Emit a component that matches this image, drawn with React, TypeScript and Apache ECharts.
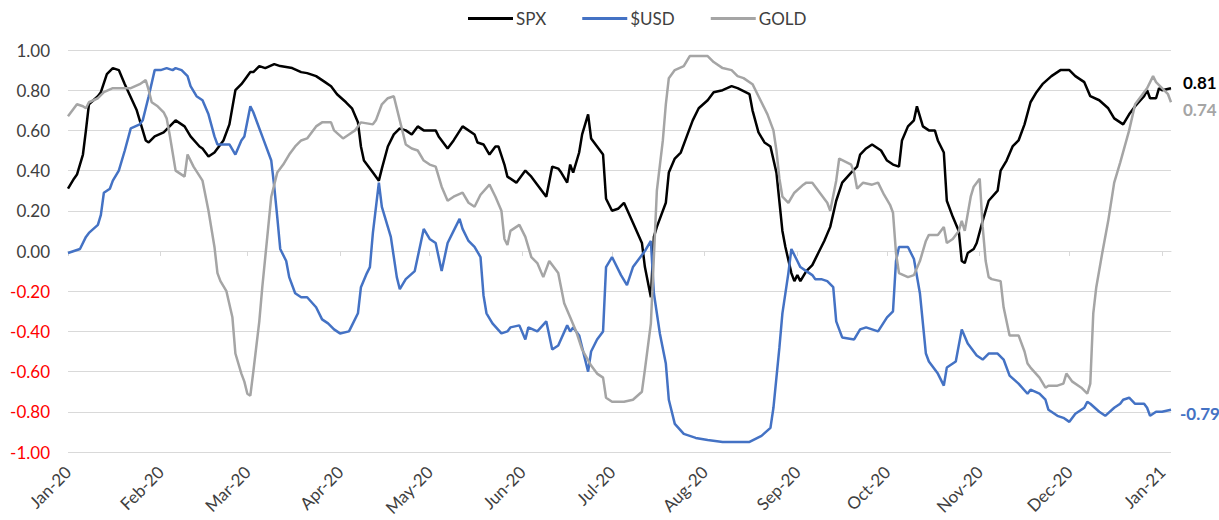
import React, { useEffect, useRef } from "react";
import * as echarts from "echarts";

const seriesNames = ["SPX", "$USD", "GOLD"];

const monthStarts = [
  "2020-01-01", "2020-02-01", "2020-03-01", "2020-04-01", "2020-05-01", "2020-06-01", "2020-07-01",
  "2020-08-01", "2020-09-01", "2020-10-01", "2020-11-01", "2020-12-01", "2021-01-01",
];
const monthLabels = [
  "Jan-20", "Feb-20", "Mar-20", "Apr-20", "May-20", "Jun-20", "Jul-20",
  "Aug-20", "Sep-20", "Oct-20", "Nov-20", "Dec-20", "Jan-21",
];

const spx: [string, number][] = [
  ["2020-01-01", 0.31], ["2020-01-03", 0.36], ["2020-01-04", 0.38], ["2020-01-06", 0.48], ["2020-01-07", 0.6],
  ["2020-01-08", 0.73], ["2020-01-11", 0.77], ["2020-01-12", 0.79], ["2020-01-14", 0.88], ["2020-01-16", 0.91],
  ["2020-01-18", 0.9], ["2020-01-20", 0.83], ["2020-01-24", 0.7], ["2020-01-27", 0.55], ["2020-01-28", 0.54],
  ["2020-01-30", 0.57], ["2020-02-02", 0.59], ["2020-02-04", 0.62], ["2020-02-06", 0.65], ["2020-02-09", 0.62],
  ["2020-02-11", 0.57], ["2020-02-14", 0.52], ["2020-02-15", 0.51], ["2020-02-17", 0.47], ["2020-02-19", 0.49],
  ["2020-02-21", 0.53], ["2020-02-22", 0.55], ["2020-02-24", 0.63], ["2020-02-26", 0.8], ["2020-02-28", 0.83],
  ["2020-02-29", 0.85], ["2020-03-02", 0.89], ["2020-03-03", 0.89], ["2020-03-05", 0.92], ["2020-03-07", 0.91],
  ["2020-03-10", 0.93], ["2020-03-12", 0.92], ["2020-03-16", 0.91], ["2020-03-19", 0.89], ["2020-03-21", 0.885],
  ["2020-03-24", 0.87], ["2020-03-27", 0.84], ["2020-03-29", 0.82], ["2020-03-31", 0.78], ["2020-04-03", 0.74],
  ["2020-04-05", 0.71], ["2020-04-07", 0.64], ["2020-04-08", 0.52], ["2020-04-09", 0.45], ["2020-04-10", 0.43],
  ["2020-04-12", 0.39], ["2020-04-14", 0.35], ["2020-04-15", 0.41], ["2020-04-17", 0.52], ["2020-04-19", 0.58],
  ["2020-04-21", 0.61], ["2020-04-23", 0.6], ["2020-04-25", 0.58], ["2020-04-27", 0.62], ["2020-04-29", 0.6],
  ["2020-05-01", 0.6], ["2020-05-03", 0.6], ["2020-05-04", 0.57], ["2020-05-07", 0.51], ["2020-05-09", 0.55],
  ["2020-05-12", 0.62], ["2020-05-13", 0.61], ["2020-05-16", 0.58], ["2020-05-17", 0.54], ["2020-05-19", 0.53],
  ["2020-05-21", 0.48], ["2020-05-23", 0.52], ["2020-05-24", 0.52], ["2020-05-26", 0.43], ["2020-05-27", 0.37],
  ["2020-05-30", 0.34], ["2020-06-02", 0.4], ["2020-06-04", 0.37], ["2020-06-06", 0.33], ["2020-06-09", 0.27],
  ["2020-06-11", 0.42], ["2020-06-13", 0.41], ["2020-06-14", 0.39], ["2020-06-16", 0.34], ["2020-06-17", 0.43],
  ["2020-06-18", 0.39], ["2020-06-20", 0.49], ["2020-06-21", 0.58], ["2020-06-23", 0.68], ["2020-06-24", 0.56],
  ["2020-06-26", 0.52], ["2020-06-28", 0.48], ["2020-06-29", 0.26], ["2020-07-01", 0.2], ["2020-07-03", 0.21],
  ["2020-07-05", 0.24], ["2020-07-08", 0.14], ["2020-07-11", 0.04], ["2020-07-12", -0.08], ["2020-07-14", -0.23],
  ["2020-07-15", 0.07], ["2020-07-16", 0.12], ["2020-07-19", 0.24], ["2020-07-20", 0.39], ["2020-07-22", 0.46],
  ["2020-07-24", 0.49], ["2020-07-26", 0.57], ["2020-07-28", 0.65], ["2020-07-30", 0.71], ["2020-08-02", 0.75],
  ["2020-08-04", 0.79], ["2020-08-07", 0.8], ["2020-08-10", 0.82], ["2020-08-12", 0.81], ["2020-08-16", 0.78],
  ["2020-08-17", 0.7], ["2020-08-19", 0.59], ["2020-08-21", 0.54], ["2020-08-23", 0.52], ["2020-08-25", 0.39],
  ["2020-08-27", 0.1], ["2020-08-28", 0.02], ["2020-08-30", -0.11], ["2020-08-31", -0.15], ["2020-09-01", -0.12],
  ["2020-09-02", -0.15], ["2020-09-04", -0.1], ["2020-09-06", -0.07], ["2020-09-08", -0.01], ["2020-09-10", 0.05],
  ["2020-09-12", 0.12], ["2020-09-14", 0.25], ["2020-09-16", 0.34], ["2020-09-19", 0.39], ["2020-09-21", 0.42],
  ["2020-09-22", 0.48], ["2020-09-24", 0.51], ["2020-09-26", 0.53], ["2020-09-29", 0.5], ["2020-10-01", 0.45],
  ["2020-10-03", 0.43], ["2020-10-05", 0.42], ["2020-10-06", 0.55], ["2020-10-08", 0.62], ["2020-10-10", 0.65],
  ["2020-10-11", 0.72], ["2020-10-13", 0.62], ["2020-10-15", 0.6], ["2020-10-17", 0.6], ["2020-10-18", 0.55],
  ["2020-10-20", 0.49], ["2020-10-21", 0.25], ["2020-10-23", 0.17], ["2020-10-25", 0.1], ["2020-10-26", -0.05],
  ["2020-10-27", -0.06], ["2020-10-28", -0.01], ["2020-10-30", 0.01], ["2020-10-31", 0.04], ["2020-11-02", 0.15],
  ["2020-11-04", 0.25], ["2020-11-07", 0.3], ["2020-11-08", 0.4], ["2020-11-10", 0.45], ["2020-11-12", 0.52],
  ["2020-11-14", 0.55], ["2020-11-16", 0.63], ["2020-11-18", 0.74], ["2020-11-20", 0.79], ["2020-11-22", 0.83],
  ["2020-11-25", 0.87], ["2020-11-28", 0.9], ["2020-12-01", 0.9], ["2020-12-03", 0.87], ["2020-12-06", 0.84],
  ["2020-12-08", 0.77], ["2020-12-11", 0.75], ["2020-12-14", 0.71], ["2020-12-16", 0.66], ["2020-12-19", 0.63],
  ["2020-12-21", 0.68], ["2020-12-23", 0.72], ["2020-12-26", 0.77], ["2020-12-27", 0.8], ["2020-12-28", 0.76],
  ["2020-12-30", 0.76], ["2020-12-31", 0.81], ["2021-01-01", 0.8], ["2021-01-04", 0.81],
];

const usd: [string, number][] = [
  ["2020-01-01", -0.01], ["2020-01-03", 0.0], ["2020-01-05", 0.01], ["2020-01-07", 0.07], ["2020-01-08", 0.09],
  ["2020-01-11", 0.13], ["2020-01-12", 0.18], ["2020-01-13", 0.29], ["2020-01-15", 0.31], ["2020-01-16", 0.35],
  ["2020-01-18", 0.4], ["2020-01-20", 0.5], ["2020-01-22", 0.61], ["2020-01-25", 0.63], ["2020-01-26", 0.65],
  ["2020-01-28", 0.77], ["2020-01-30", 0.9], ["2020-02-01", 0.9], ["2020-02-03", 0.91], ["2020-02-05", 0.9],
  ["2020-02-06", 0.91], ["2020-02-08", 0.9], ["2020-02-10", 0.87], ["2020-02-11", 0.82], ["2020-02-13", 0.77],
  ["2020-02-15", 0.75], ["2020-02-17", 0.68], ["2020-02-19", 0.57], ["2020-02-20", 0.53], ["2020-02-22", 0.53],
  ["2020-02-24", 0.53], ["2020-02-26", 0.48], ["2020-02-28", 0.55], ["2020-02-29", 0.57], ["2020-03-02", 0.72],
  ["2020-03-03", 0.69], ["2020-03-06", 0.57], ["2020-03-09", 0.45], ["2020-03-10", 0.32], ["2020-03-11", 0.17],
  ["2020-03-12", 0.01], ["2020-03-14", -0.05], ["2020-03-15", -0.13], ["2020-03-17", -0.21], ["2020-03-19", -0.23],
  ["2020-03-21", -0.23], ["2020-03-24", -0.28], ["2020-03-26", -0.34], ["2020-03-28", -0.36], ["2020-03-30", -0.39],
  ["2020-04-01", -0.41], ["2020-04-04", -0.4], ["2020-04-05", -0.37], ["2020-04-07", -0.31], ["2020-04-08", -0.18],
  ["2020-04-10", -0.11], ["2020-04-11", -0.08], ["2020-04-12", 0.09], ["2020-04-14", 0.34], ["2020-04-15", 0.22],
  ["2020-04-17", 0.12], ["2020-04-18", 0.07], ["2020-04-20", -0.13], ["2020-04-21", -0.19], ["2020-04-23", -0.14],
  ["2020-04-26", -0.1], ["2020-04-27", -0.03], ["2020-04-29", 0.11], ["2020-05-01", 0.06], ["2020-05-03", 0.04],
  ["2020-05-05", -0.1], ["2020-05-07", 0.04], ["2020-05-09", 0.1], ["2020-05-11", 0.16], ["2020-05-12", 0.11],
  ["2020-05-14", 0.05], ["2020-05-16", 0.02], ["2020-05-18", -0.03], ["2020-05-19", -0.22], ["2020-05-20", -0.31],
  ["2020-05-22", -0.36], ["2020-05-25", -0.41], ["2020-05-27", -0.4], ["2020-05-28", -0.38], ["2020-05-31", -0.37],
  ["2020-06-02", -0.44], ["2020-06-03", -0.38], ["2020-06-06", -0.4], ["2020-06-09", -0.35], ["2020-06-11", -0.49],
  ["2020-06-13", -0.47], ["2020-06-16", -0.37], ["2020-06-17", -0.4], ["2020-06-18", -0.38], ["2020-06-20", -0.42],
  ["2020-06-23", -0.6], ["2020-06-24", -0.5], ["2020-06-26", -0.44], ["2020-06-28", -0.4], ["2020-06-29", -0.08],
  ["2020-07-01", -0.03], ["2020-07-04", -0.12], ["2020-07-06", -0.17], ["2020-07-08", -0.08], ["2020-07-10", -0.04],
  ["2020-07-12", 0.0], ["2020-07-14", 0.05], ["2020-07-15", -0.21], ["2020-07-17", -0.41], ["2020-07-19", -0.56],
  ["2020-07-20", -0.74], ["2020-07-22", -0.86], ["2020-07-25", -0.91], ["2020-07-29", -0.93], ["2020-08-02", -0.94],
  ["2020-08-07", -0.95], ["2020-08-16", -0.95], ["2020-08-20", -0.92], ["2020-08-23", -0.88], ["2020-08-24", -0.78],
  ["2020-08-26", -0.48], ["2020-08-27", -0.31], ["2020-08-29", -0.11], ["2020-08-30", 0.01], ["2020-09-01", -0.05],
  ["2020-09-02", -0.08], ["2020-09-04", -0.1], ["2020-09-06", -0.12], ["2020-09-07", -0.14], ["2020-09-09", -0.14],
  ["2020-09-11", -0.15], ["2020-09-13", -0.18], ["2020-09-14", -0.35], ["2020-09-16", -0.43], ["2020-09-20", -0.44],
  ["2020-09-22", -0.39], ["2020-09-24", -0.38], ["2020-09-28", -0.4], ["2020-10-01", -0.33], ["2020-10-03", -0.3],
  ["2020-10-04", -0.05], ["2020-10-05", 0.02], ["2020-10-08", 0.02], ["2020-10-10", -0.04], ["2020-10-12", -0.21],
  ["2020-10-14", -0.51], ["2020-10-15", -0.55], ["2020-10-18", -0.61], ["2020-10-20", -0.67], ["2020-10-21", -0.58],
  ["2020-10-24", -0.55], ["2020-10-26", -0.39], ["2020-10-28", -0.46], ["2020-10-31", -0.52], ["2020-11-02", -0.54],
  ["2020-11-04", -0.51], ["2020-11-07", -0.51], ["2020-11-09", -0.54], ["2020-11-11", -0.62], ["2020-11-14", -0.66],
  ["2020-11-17", -0.71], ["2020-11-18", -0.69], ["2020-11-21", -0.71], ["2020-11-23", -0.74], ["2020-11-24", -0.79],
  ["2020-11-27", -0.82], ["2020-11-29", -0.83], ["2020-12-01", -0.85], ["2020-12-03", -0.81], ["2020-12-06", -0.78],
  ["2020-12-07", -0.75], ["2020-12-08", -0.76], ["2020-12-11", -0.8], ["2020-12-13", -0.82], ["2020-12-16", -0.78],
  ["2020-12-18", -0.76], ["2020-12-19", -0.74], ["2020-12-21", -0.73], ["2020-12-23", -0.76], ["2020-12-26", -0.76],
  ["2020-12-27", -0.78], ["2020-12-28", -0.82], ["2020-12-30", -0.8], ["2021-01-01", -0.8], ["2021-01-04", -0.79],
];

const gold: [string, number][] = [
  ["2020-01-01", 0.67], ["2020-01-03", 0.71], ["2020-01-04", 0.73], ["2020-01-06", 0.72], ["2020-01-07", 0.71],
  ["2020-01-08", 0.74], ["2020-01-11", 0.76], ["2020-01-13", 0.79], ["2020-01-16", 0.81], ["2020-01-18", 0.81],
  ["2020-01-22", 0.81], ["2020-01-25", 0.83], ["2020-01-27", 0.85], ["2020-01-28", 0.8], ["2020-01-29", 0.74],
  ["2020-01-31", 0.72], ["2020-02-02", 0.69], ["2020-02-03", 0.66], ["2020-02-04", 0.58], ["2020-02-05", 0.49],
  ["2020-02-06", 0.4], ["2020-02-09", 0.37], ["2020-02-10", 0.48], ["2020-02-12", 0.42], ["2020-02-15", 0.35],
  ["2020-02-17", 0.2], ["2020-02-19", 0.02], ["2020-02-20", -0.11], ["2020-02-21", -0.15], ["2020-02-23", -0.2],
  ["2020-02-25", -0.33], ["2020-02-26", -0.51], ["2020-02-28", -0.61], ["2020-02-29", -0.65], ["2020-03-01", -0.71],
  ["2020-03-02", -0.72], ["2020-03-03", -0.6], ["2020-03-05", -0.35], ["2020-03-06", -0.18], ["2020-03-08", 0.12],
  ["2020-03-09", 0.27], ["2020-03-11", 0.39], ["2020-03-13", 0.43], ["2020-03-15", 0.48], ["2020-03-17", 0.52],
  ["2020-03-19", 0.55], ["2020-03-21", 0.56], ["2020-03-24", 0.62], ["2020-03-26", 0.64], ["2020-03-29", 0.64],
  ["2020-03-30", 0.6], ["2020-04-02", 0.56], ["2020-04-04", 0.58], ["2020-04-06", 0.6], ["2020-04-08", 0.64],
  ["2020-04-12", 0.63], ["2020-04-13", 0.65], ["2020-04-15", 0.73], ["2020-04-17", 0.76], ["2020-04-19", 0.77],
  ["2020-04-21", 0.65], ["2020-04-23", 0.53], ["2020-04-25", 0.51], ["2020-04-27", 0.5], ["2020-04-29", 0.45],
  ["2020-05-01", 0.43], ["2020-05-03", 0.42], ["2020-05-05", 0.32], ["2020-05-07", 0.25], ["2020-05-09", 0.27],
  ["2020-05-12", 0.29], ["2020-05-14", 0.24], ["2020-05-16", 0.22], ["2020-05-18", 0.28], ["2020-05-21", 0.33],
  ["2020-05-23", 0.27], ["2020-05-25", 0.2], ["2020-05-26", 0.06], ["2020-05-27", 0.03], ["2020-05-28", 0.1],
  ["2020-05-31", 0.13], ["2020-06-02", 0.07], ["2020-06-04", -0.03], ["2020-06-06", -0.06], ["2020-06-08", -0.13],
  ["2020-06-10", -0.05], ["2020-06-13", -0.11], ["2020-06-15", -0.26], ["2020-06-17", -0.33], ["2020-06-19", -0.4],
  ["2020-06-21", -0.49], ["2020-06-24", -0.57], ["2020-06-26", -0.61], ["2020-06-28", -0.63], ["2020-06-29", -0.73],
  ["2020-07-01", -0.75], ["2020-07-05", -0.75], ["2020-07-08", -0.74], ["2020-07-11", -0.7], ["2020-07-12", -0.59],
  ["2020-07-14", -0.36], ["2020-07-15", -0.03], ["2020-07-16", 0.3], ["2020-07-18", 0.55], ["2020-07-19", 0.73],
  ["2020-07-20", 0.86], ["2020-07-22", 0.9], ["2020-07-25", 0.92], ["2020-07-27", 0.97], ["2020-07-30", 0.97],
  ["2020-08-02", 0.97], ["2020-08-04", 0.94], ["2020-08-07", 0.91], ["2020-08-10", 0.9], ["2020-08-12", 0.87],
  ["2020-08-14", 0.86], ["2020-08-17", 0.83], ["2020-08-19", 0.77], ["2020-08-22", 0.68], ["2020-08-24", 0.6],
  ["2020-08-25", 0.5], ["2020-08-26", 0.36], ["2020-08-27", 0.27], ["2020-08-29", 0.24], ["2020-08-31", 0.29],
  ["2020-09-03", 0.33], ["2020-09-04", 0.34], ["2020-09-06", 0.34], ["2020-09-09", 0.28], ["2020-09-11", 0.24],
  ["2020-09-12", 0.2], ["2020-09-14", 0.35], ["2020-09-15", 0.46], ["2020-09-19", 0.43], ["2020-09-20", 0.39],
  ["2020-09-21", 0.31], ["2020-09-23", 0.34], ["2020-09-26", 0.33], ["2020-09-28", 0.34], ["2020-09-30", 0.28],
  ["2020-10-02", 0.23], ["2020-10-03", 0.19], ["2020-10-04", -0.01], ["2020-10-05", -0.11], ["2020-10-08", -0.13],
  ["2020-10-10", -0.12], ["2020-10-12", -0.05], ["2020-10-14", 0.05], ["2020-10-15", 0.08], ["2020-10-18", 0.08],
  ["2020-10-20", 0.12], ["2020-10-21", 0.04], ["2020-10-23", 0.06], ["2020-10-25", 0.1], ["2020-10-26", 0.15],
  ["2020-10-27", 0.1], ["2020-10-29", 0.27], ["2020-10-30", 0.32], ["2020-11-01", 0.36], ["2020-11-02", 0.12],
  ["2020-11-03", -0.05], ["2020-11-04", -0.13], ["2020-11-05", -0.14], ["2020-11-08", -0.15], ["2020-11-09", -0.28],
  ["2020-11-11", -0.42], ["2020-11-14", -0.42], ["2020-11-16", -0.5], ["2020-11-17", -0.56], ["2020-11-18", -0.58],
  ["2020-11-21", -0.63], ["2020-11-23", -0.68], ["2020-11-24", -0.67], ["2020-11-27", -0.67], ["2020-11-29", -0.66],
  ["2020-11-30", -0.61], ["2020-12-02", -0.65], ["2020-12-05", -0.68], ["2020-12-07", -0.71], ["2020-12-08", -0.66],
  ["2020-12-09", -0.31], ["2020-12-10", -0.18], ["2020-12-12", -0.01], ["2020-12-14", 0.15], ["2020-12-16", 0.34],
  ["2020-12-18", 0.44], ["2020-12-21", 0.6], ["2020-12-23", 0.73], ["2020-12-25", 0.77], ["2020-12-27", 0.81],
  ["2020-12-29", 0.87], ["2020-12-30", 0.84], ["2021-01-01", 0.81], ["2021-01-03", 0.78], ["2021-01-04", 0.74],
];

const colors = ["#000000", "#4472C4", "#A5A5A5"];
const FONT = "Lato, 'Liberation Sans', sans-serif";

function toTs(s: string): number {
  const [y, m, d] = s.split("-").map(Number);
  return Date.UTC(y, m - 1, d);
}

export default function App() {
  const ref = useRef<HTMLDivElement>(null);

  useEffect(() => {
    if (!ref.current) return;
    const chart = echarts.init(ref.current, undefined, { renderer: "svg" });
    const tickTs = monthStarts.map(toTs);
    const xMin = toTs("2020-01-01");
    const xMax = toTs("2021-01-04");
    const fmtMonth = (v: number) => {
      let best = 0;
      for (let i = 1; i < tickTs.length; i++) {
        if (Math.abs(tickTs[i] - v) < Math.abs(tickTs[best] - v)) best = i;
      }
      return monthLabels[best];
    };
    const endOffsets: [number, number][] = [[4, -6], [1, 4], [4, 7]];
    const datasets = [spx, usd, gold];

    chart.setOption({
      animation: false,
      legend: {
        top: 5,
        left: 463,
        data: seriesNames.map((n) => ({ name: n, icon: "rect" })),
        itemWidth: 45,
        itemHeight: 3,
        itemGap: 36,
        textStyle: { fontFamily: FONT, fontSize: 17, color: "#404040", padding: [0, 0, 0, -2] },
      },
      grid: { left: 68, right: 48, top: 50, bottom: 68, containLabel: false },
      xAxis: [
        {
          type: "value",
          min: xMin,
          max: xMax,
          axisLine: { show: false, onZero: false },
          axisTick: { show: false },
          splitLine: { show: false },
          axisLabel: {
            customValues: tickTs,
            formatter: (v: number) => fmtMonth(v),
            rotate: 45,
            margin: 17,
            fontFamily: FONT,
            fontSize: 17,
            color: "#404040",
          },
        },
        {
          type: "value",
          min: xMin,
          max: xMax,
          position: "bottom",
          axisLine: { show: true, onZero: true, lineStyle: { color: "#D9D9D9", width: 1 } },
          axisTick: { show: true, customValues: tickTs, length: 5, lineStyle: { color: "#D9D9D9", width: 1 } },
          axisLabel: { show: false },
          splitLine: { show: false },
        },
      ],
      yAxis: {
        type: "value",
        min: -1,
        max: 1,
        interval: 0.2,
        axisLine: { show: false, onZero: false },
        axisTick: { show: false },
        splitLine: { lineStyle: { color: "#D9D9D9", width: 1 } },
        axisLabel: {
          margin: 18,
          fontFamily: FONT,
          fontSize: 17,
          formatter: (v: number) => v.toFixed(2),
          color: (v: any) => (Number(v) < -1e-9 ? "#FF0000" : "#404040"),
        },
      },
      series: seriesNames.map((name, i) => ({
        name,
        type: "line",
        xAxisIndex: 0,
        data: datasets[i].map(([d, v]) => [toTs(d), v]),
        symbol: "none",
        showSymbol: false,
        smooth: false,
        color: colors[i],
        itemStyle: { color: colors[i] },
        lineStyle: { color: colors[i], width: 2.5 },
        endLabel: {
          show: true,
          formatter: (p: any) => Number(p.value[1]).toFixed(2),
          color: colors[i],
          fontFamily: FONT,
          fontWeight: "bold",
          fontSize: 17,
          offset: endOffsets[i],
        },
      })),
    });
    return () => chart.dispose();
  }, []);

  return (
    <div
      ref={ref}
      style={{ position: "fixed", left: 0, top: 0, width: "1219px", height: "520px", background: "#fff" }}
    />
  );
}
